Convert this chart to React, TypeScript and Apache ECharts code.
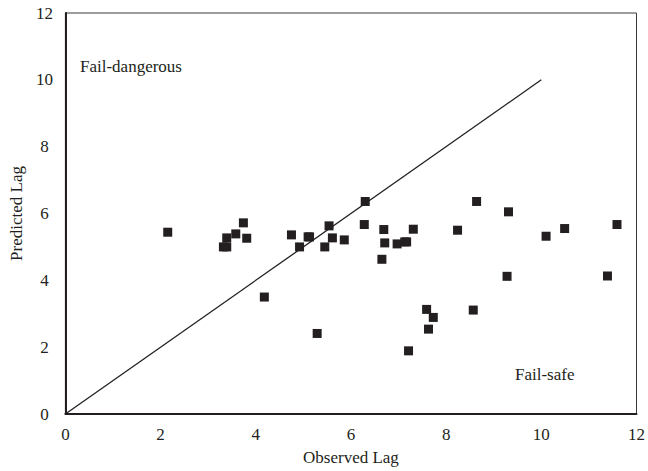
import React, { useEffect, useRef } from "react";
import * as echarts from "echarts";

const observedLag = [
  2.15, 3.74, 3.58, 3.39, 3.81, 3.32, 3.39, 4.75, 5.1, 5.13, 4.92, 5.54, 5.61,
  5.45, 5.86, 6.28, 6.3, 4.18, 5.29, 6.69, 6.71, 6.65, 6.97, 7.13, 7.17, 7.31,
  8.24, 8.64, 9.31, 10.1, 10.49, 11.59, 9.28, 11.39, 8.57, 7.59, 7.73, 7.63,
  7.21,
];
const predictedLag = [
  5.44, 5.72, 5.39, 5.27, 5.26, 5.0, 5.0, 5.36, 5.3, 5.3, 5.0, 5.63, 5.27,
  5.0, 5.21, 5.67, 6.36, 3.5, 2.41, 5.52, 5.12, 4.63, 5.09, 5.15, 5.15, 5.53,
  5.5, 6.36, 6.05, 5.32, 5.55, 5.67, 4.12, 4.13, 3.11, 3.13, 2.89, 2.54, 1.89,
];
const diagonalLine = [
  [0, 0],
  [10, 10],
];
const xTicks = [0, 12, 2];
const yTicks = [0, 12, 2];

const FONT = "Liberation Serif";
const INK = "#231f20";

export default function App() {
  const ref = useRef<HTMLDivElement>(null);
  useEffect(() => {
    if (!ref.current) return;
    document.body.style.margin = "0";
    const chart = echarts.init(ref.current, null, { renderer: "svg" });
    const points = observedLag.map((x, i) => [x, predictedLag[i]]);
    chart.setOption({
      animation: false,
      backgroundColor: "#ffffff",
      textStyle: { fontFamily: FONT },
      grid: {
        left: 61,
        right: 10,
        top: 13,
        bottom: 57,
        show: true,
        borderColor: "#3a3a3a",
        borderWidth: 1,
        backgroundColor: "transparent",
      },
      xAxis: {
        type: "value",
        min: xTicks[0],
        max: xTicks[1],
        interval: xTicks[2],
        name: "Observed Lag",
        nameLocation: "middle",
        nameGap: 35,
        nameTextStyle: { fontFamily: FONT, fontSize: 17, color: INK },
        axisLine: { show: true, onZero: false, lineStyle: { color: INK, width: 2 } },
        axisTick: { show: false },
        splitLine: { show: false },
        axisLabel: { fontFamily: FONT, fontSize: 17, color: INK, margin: 12 },
      },
      yAxis: {
        type: "value",
        min: yTicks[0],
        max: yTicks[1],
        interval: yTicks[2],
        name: "Predicted Lag",
        nameLocation: "middle",
        nameGap: 35,
        nameTextStyle: { fontFamily: FONT, fontSize: 17, color: INK },
        axisLine: { show: true, onZero: false, lineStyle: { color: INK, width: 2 } },
        axisTick: { show: false },
        splitLine: { show: false },
        axisLabel: { fontFamily: FONT, fontSize: 17, color: INK, margin: 21, align: "center" },
      },
      graphic: [
        {
          type: "text",
          x: 80,
          y: 66,
          style: {
            text: "Fail-dangerous",
            fontFamily: FONT,
            fontSize: 17,
            fill: INK,
            verticalAlign: "middle",
          },
        },
        {
          type: "text",
          x: 515,
          y: 374,
          style: {
            text: "Fail-safe",
            fontFamily: FONT,
            fontSize: 17,
            fill: INK,
            verticalAlign: "middle",
          },
        },
      ],
      series: [
        {
          type: "line",
          data: diagonalLine,
          symbol: "none",
          lineStyle: { color: INK, width: 1.3 },
          silent: true,
        },
        {
          type: "scatter",
          data: points,
          symbol: "rect",
          symbolSize: 9,
          itemStyle: { color: INK, opacity: 1 },
        },
      ],
    });
    return () => chart.dispose();
  }, []);
  return (
    <div
      ref={ref}
      style={{ position: "absolute", left: 0, top: 0, width: 648, height: 471 }}
    />
  );
}
